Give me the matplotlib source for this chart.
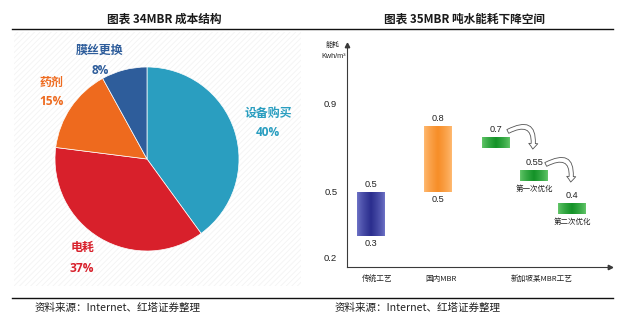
import numpy as np
import matplotlib
matplotlib.use("Agg")
import matplotlib.pyplot as plt
from matplotlib.patches import Rectangle, FancyArrowPatch
from matplotlib.lines import Line2D
from matplotlib.colors import to_rgb

plt.rcParams['font.family'] = ['Noto Sans CJK SC', 'DejaVu Sans']
plt.rcParams['hatch.linewidth'] = 0.6
NARROW = ['Liberation Sans Narrow', 'Liberation Sans', 'DejaVu Sans']

# ---- MBR cost structure ----
cost_items = ['设备购买', '电耗', '药剂', '膜丝更换']
cost_share = [40, 37, 15, 8]
cost_colors = ['#2A9EC0', '#D8202B', '#EE6A1E', '#2E5D9B']

# ---- energy use per ton of water (kWh/m3) ----
stage_names = ['传统工艺', '国内MBR', '新加坡某MBR工艺']
bar_low = [0.3, 0.5]
bar_high = [0.5, 0.8]
sg_values = [0.7, 0.55, 0.4]
sg_steps = ['', '第一次优化', '第二次优化']
y_ticks = [0.2, 0.5, 0.9]

W, H = 630, 323
fig = plt.figure(figsize=(W / 100, H / 100), dpi=100)


def fx(x):
    return x / W


def fy(y):
    return 1 - y / H


# faint striped backdrop of the left panel
fig.patches.append(Rectangle((fx(14), fy(286)), (301 - 14) / W, (286 - 32) / H,
                             transform=fig.transFigure, fill=False,
                             hatch='//////', edgecolor='#F3F3F3', lw=0, zorder=-5))

# ---------------- pie ----------------
cx, cy, r = 147, 159, 92
ax1 = fig.add_axes([fx(cx - r), fy(cy + r), 2 * r / W, 2 * r / H], zorder=2)
ax1.patch.set_visible(False)
ax1.pie(cost_share, colors=cost_colors, startangle=90, counterclock=False,
        radius=1, wedgeprops=dict(linewidth=0.5, edgecolor='white'))
ax1.set_xlim(-1, 1)
ax1.set_ylim(-1, 1)
ax1.set_aspect('equal')
ax1.axis('off')

# label anchor (x, name y, percent y) in pixels
label_xy = [(268, 113, 132), (82, 248, 268), (51, 82, 101), (100, 50, 70)]
for name, share, col, (lx, ny, py) in zip(cost_items, cost_share, cost_colors, label_xy):
    fig.text(fx(lx), fy(ny), name, color=col, fontsize=8.6, fontweight='bold',
             ha='center', va='center')
    fig.text(fx(lx), fy(py), f'{share}%', color=col, fontsize=8.6, fontweight='bold',
             ha='center', va='center', family=['Open Sans', 'DejaVu Sans'])

# ---------------- energy chart ----------------
ax2 = fig.add_axes([fx(347), fy(267), (610 - 347) / W, (267 - 45) / H], zorder=2)
ax2.patch.set_visible(False)
bar_w = 0.41
x_main = [0, 1]
x_sg = [1.88, 2.45, 3.02]
box_h = 0.05


def gradient_fill(ax, patch, edge, mid):
    x0, y0 = patch.get_x(), patch.get_y()
    w, h = patch.get_width(), patch.get_height()
    t = np.linspace(0, 1, 64)
    k = (1 - np.abs(2 * t - 1)) ** 0.7
    c0, c1 = np.array(to_rgb(edge)), np.array(to_rgb(mid))
    img = (c0[None, :] * (1 - k[:, None]) + c1[None, :] * k[:, None])[None, :, :]
    im = ax.imshow(img, extent=(x0, x0 + w, y0, y0 + h), aspect='auto',
                   interpolation='bilinear', zorder=2)
    im.set_clip_path(patch)


main_grad = [('#7075C8', '#2B2E8E'), ('#FFBB74', '#F78E28')]
heights = [h - l for l, h in zip(bar_low, bar_high)]
bars = ax2.bar(x_main, heights, bottom=bar_low, width=bar_w, color='none',
               edgecolor='none', zorder=2)
for b, (e, m) in zip(bars, main_grad):
    gradient_fill(ax2, b, e, m)

boxes = ax2.bar(x_sg, [box_h] * len(sg_values), bottom=sg_values, width=bar_w,
                color='none', edgecolor='none', zorder=2)
for b in boxes:
    gradient_fill(ax2, b, '#66C86C', '#149228')

num_kw = dict(fontsize=6.6, family=NARROW, color='#222222', ha='center',
              textcoords='offset points')
for x, lo, hi in zip(x_main, bar_low, bar_high):
    ax2.annotate(f'{hi:g}', (x, hi), xytext=(0, 2.2), va='bottom', **num_kw)
    ax2.annotate(f'{lo:g}', (x, lo), xytext=(0, -2.5), va='top', **num_kw)

for x, v, step in zip(x_sg, sg_values, sg_steps):
    ax2.annotate(f'{v:g}', (x, v + box_h), xytext=(0, 2.2), va='bottom', **num_kw)
    if step:
        ax2.annotate(step, (x, v), xytext=(0, -3), textcoords='offset points',
                     ha='center', va='top', fontsize=5.4, color='#222222')

# curved hollow arrows between the optimisation steps
for i in range(len(sg_values) - 1):
    a = (x_sg[i] + bar_w / 2 - 0.03, sg_values[i] + box_h + 0.025)
    b = (x_sg[i + 1] - 0.02, sg_values[i + 1] + box_h + 0.095)
    ax2.add_patch(FancyArrowPatch(a, b, connectionstyle='arc3,rad=-0.95',
                                  arrowstyle='simple,head_length=4,head_width=6.5,tail_width=3',
                                  fc='white', ec='#555555', lw=0.6,
                                  shrinkA=0, shrinkB=0, zorder=4))

ax2.set_xlim(-0.36, 3.59)
ax2.set_ylim(0.159, 1.168)
for s in ('top', 'right'):
    ax2.spines[s].set_visible(False)
for s in ('left', 'bottom'):
    ax2.spines[s].set_color('#3A3A3A')
    ax2.spines[s].set_linewidth(0.8)
ax2.plot(0, 1, marker='^', ms=3.2, color='#3A3A3A', transform=ax2.transAxes, clip_on=False)
ax2.plot(1, 0, marker='>', ms=3.2, color='#3A3A3A', transform=ax2.transAxes, clip_on=False)

ax2.set_yticks(y_ticks)
ax2.set_yticklabels([f'{v:g}' for v in y_ticks], fontsize=6.8, family=NARROW,
                    color='#222222')
ax2.set_xticks([0.09, 1.05, 2.56])
ax2.set_xticklabels(stage_names, fontsize=5.5, color='#222222')
ax2.tick_params(axis='y', length=0, pad=7)
ax2.tick_params(axis='x', length=0, pad=6)

fig.text(fx(333), fy(45), '能耗', fontsize=5, ha='center', va='center', color='#222222')
fig.text(fx(334), fy(56), 'Kwh/m³', fontsize=5.2, ha='center', va='center',
         family=NARROW, color='#222222')

# ---------------- titles, rules, sources ----------------
fig.text(fx(164), fy(19), '图表 34MBR 成本结构', fontsize=8.4, fontweight='bold',
         ha='center', va='center', color='#1A1A1A')
fig.text(fx(464), fy(19), '图表 35MBR 吨水能耗下降空间', fontsize=8.4, fontweight='bold',
         ha='center', va='center', color='#1A1A1A')
for yy in (29, 298):
    fig.add_artist(Line2D([fx(12), fx(613)], [fy(yy), fy(yy)], color='#111111', lw=1.0))
for x0 in (35, 335):
    fig.text(fx(x0), fy(308), '资料来源：Internet、红塔证券整理', fontsize=7.6,
             ha='left', va='center', color='#222222')

fig.savefig('out.png', dpi=100)
